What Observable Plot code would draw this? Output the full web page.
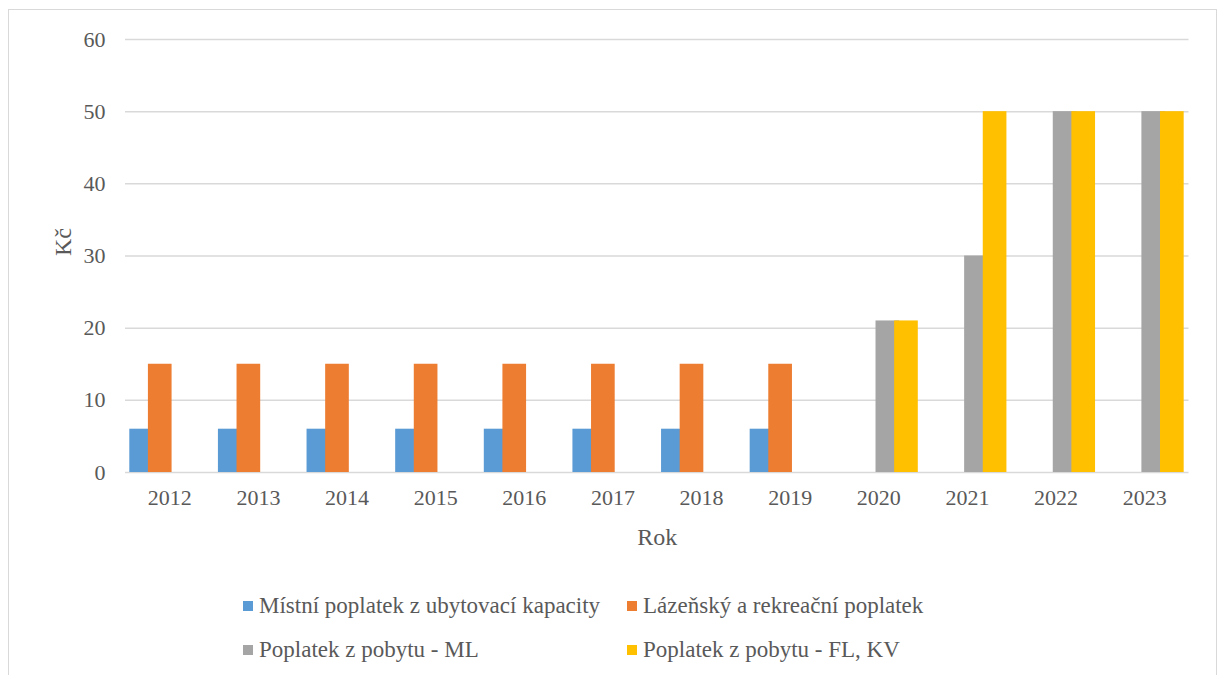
<!DOCTYPE html>
<html>
<head>
<meta charset="utf-8">
<script src="https://cdn.jsdelivr.net/npm/d3@7"></script>
<script src="https://cdn.jsdelivr.net/npm/@observablehq/plot@0.6"></script>
<style>
  html, body { margin: 0; padding: 0; background: #fff; }
  #wrap { position: relative; width: 1224px; height: 675px; overflow: hidden; font-family: "Liberation Serif", "DejaVu Serif", serif; color: #595959; }
  #border { position: absolute; left: 8px; top: 9px; width: 1209px; height: 700px; border: 1.5px solid #d9d9d9; box-sizing: border-box; }
  #chart { position: absolute; left: 0; top: 0; }
  .leg { position: absolute; font-size: 23px; white-space: nowrap; line-height: 1; font-family: "Liberation Serif", "DejaVu Serif", serif; }
  .leg span.sw { display: inline-block; width: 10px; height: 10px; margin-right: 6px; vertical-align: 2px; }
</style>
</head>
<body>
<div id="wrap">
  <div id="border"></div>
  <div id="chart"></div>
  <div id="legend"></div>
</div>
<script>
const years = ["2012","2013","2014","2015","2016","2017","2018","2019","2020","2021","2022","2023"];
const seriesNames = [
  "Místní poplatek z ubytovací kapacity",
  "Lázeňský a rekreační poplatek",
  "Poplatek z pobytu - ML",
  "Poplatek z pobytu - FL, KV"
];
const seriesColors = ["#5b9bd5", "#ed7d31", "#a5a5a5", "#ffc000"];
const mistniPoplatek   = [6, 6, 6, 6, 6, 6, 6, 6, 0, 0, 0, 0];
const lazenskyPoplatek = [15, 15, 15, 15, 15, 15, 15, 15, 0, 0, 0, 0];
const pobytML          = [0, 0, 0, 0, 0, 0, 0, 0, 21, 30, 50, 50];
const pobytFLKV        = [0, 0, 0, 0, 0, 0, 0, 0, 21, 50, 50, 50];
const yTicks = [0, 10, 20, 30, 40, 50, 60];

const seriesValues = [mistniPoplatek, lazenskyPoplatek, pobytML, pobytFLKV];
const data = [];
seriesValues.forEach((vals, s) => {
  vals.forEach((v, i) => data.push({ year: years[i], series: seriesNames[s], value: v, s }));
});

const FONT = "'Liberation Serif', 'DejaVu Serif', serif";
const W = 1224, H = 560;
const mL = 125, mR = 35.5, mT = 39, mB = 88;
const band = (W - mL - mR) / years.length;
// Excel-style overlapping clustered bars: bar width and step as fractions of the band
const barW = band * 0.267, step = band * 0.21, off0 = band * 0.0485;

const barMarks = seriesNames.map((name, s) => {
  const left = off0 + s * step;
  return Plot.barY(data.filter(d => d.s === s && d.value > 0), {
    x: "year", y: "value", fill: seriesColors[s],
    insetLeft: left, insetRight: band - left - barW
  });
});

const chart = Plot.plot({
  width: W, height: H,
  marginLeft: mL, marginRight: mR, marginTop: mT, marginBottom: mB,
  style: { fontFamily: FONT, fontSize: "22px", color: "#595959", background: "transparent" },
  x: { domain: years, padding: 0, round: false, label: null },
  y: { domain: [0, 60], label: null },
  marks: [
    Plot.ruleY(yTicks, { stroke: "#d9d9d9", strokeWidth: 1.5 }),
    ...barMarks,
    Plot.axisY(yTicks, { tickSize: 0, tickPadding: 20, fill: "#595959", fontSize: 22, fontFamily: FONT, label: null }),
    Plot.axisX({ tickSize: 0, tickPadding: 17, fill: "#595959", fontSize: 22, fontFamily: FONT, label: null }),
    Plot.text(["Kč"], { frameAnchor: "left", dx: -62, rotate: -90, fontSize: 24, fontFamily: FONT, fill: "#595959" }),
    Plot.text(["Rok"], { frameAnchor: "bottom", dy: 72, fontSize: 24, fontFamily: FONT, fill: "#595959" })
  ]
});
document.getElementById("chart").appendChild(chart);

const legendPos = [
  { x: 243, y: 594 }, { x: 627, y: 594 },
  { x: 243, y: 638 }, { x: 627, y: 638 }
];
const legend = document.getElementById("legend");
seriesNames.forEach((name, s) => {
  const div = document.createElement("div");
  div.className = "leg";
  div.style.left = legendPos[s].x + "px";
  div.style.top = legendPos[s].y + "px";
  div.innerHTML = `<span class="sw" style="background:${seriesColors[s]}"></span>${name}`;
  legend.appendChild(div);
});
</script>
</body>
</html>
